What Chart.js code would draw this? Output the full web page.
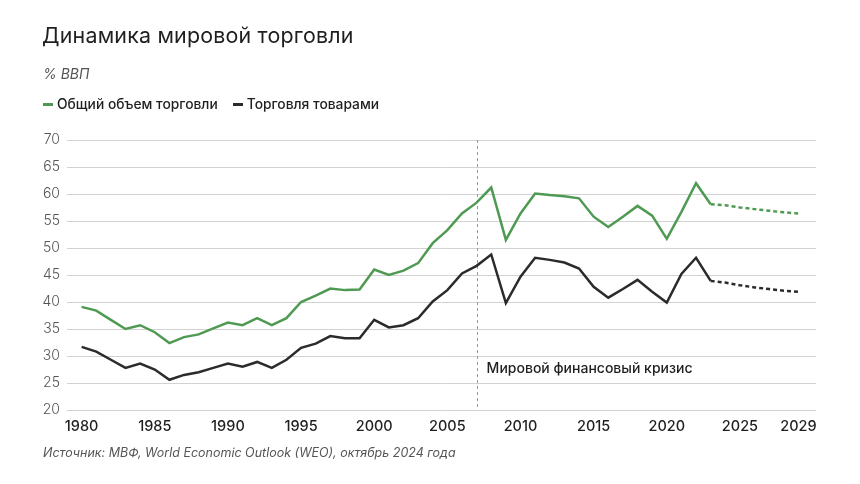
<!DOCTYPE html>
<html>
<head>
<meta charset="utf-8">
<script src="https://cdn.jsdelivr.net/npm/chart.js@4.4.1/dist/chart.umd.min.js"></script>
<style>
  html, body { margin: 0; padding: 0; background: #fff; }
  #wrap { position: relative; width: 860px; height: 484px; overflow: hidden; font-family: Inter, "Noto Sans", sans-serif; }
  #c { position: absolute; left: 0; top: 0; }
  .title { position: absolute; left: 42px; top: 22px; font-size: 21.4px; font-weight: 400; color: #1f1f1f; letter-spacing: 0.2px; white-space: nowrap; }
  .unit { position: absolute; left: 43px; top: 65px; font-size: 14px; font-style: italic; color: #555; white-space: nowrap; }
  .legend { position: absolute; left: 43px; top: 96px; font-size: 13.8px; font-weight: 500; color: #1f1f1f; white-space: nowrap; }
  .legend .item { display: inline-block; margin-right: 15px; }
  .legend .sw { display: inline-block; width: 10px; height: 3px; vertical-align: middle; margin-right: 4px; position: relative; top: -1px; }
  .source { position: absolute; left: 43px; top: 445px; font-size: 12.5px; font-style: italic; color: #555; white-space: nowrap; }
</style>
</head>
<body>
<div id="wrap">
  <canvas id="c" width="860" height="484"></canvas>
  <div class="title">Динамика мировой торговли</div>
  <div class="unit">% ВВП</div>
  <div class="legend" id="legend"></div>
  <div class="source">Источник: МВФ, World Economic Outlook (WEO), октябрь 2024 года</div>
</div>
<script>
// ---- data ----
const years = [1980,1981,1982,1983,1984,1985,1986,1987,1988,1989,
               1990,1991,1992,1993,1994,1995,1996,1997,1998,1999,
               2000,2001,2002,2003,2004,2005,2006,2007,2008,2009,
               2010,2011,2012,2013,2014,2015,2016,2017,2018,2019,
               2020,2021,2022,2023,2024,2025,2026,2027,2028,2029];
const totalTrade = [39.1,38.4,36.7,35.0,35.7,34.4,32.4,33.5,34.0,35.1,
                    36.2,35.7,37.0,35.7,37.0,40.0,41.2,42.5,42.2,42.3,
                    46.0,45.0,45.8,47.2,50.9,53.3,56.4,58.4,61.2,51.5,
                    56.4,60.1,59.8,59.6,59.2,55.8,53.9,55.8,57.8,56.0,
                    51.7,56.7,62.0,58.1,57.9,57.5,57.2,56.9,56.6,56.4];
const goodsTrade = [31.7,30.8,29.3,27.8,28.6,27.5,25.6,26.5,27.0,27.8,
                    28.6,28.0,28.9,27.8,29.3,31.5,32.3,33.7,33.3,33.3,
                    36.7,35.3,35.7,37.0,40.1,42.2,45.3,46.7,48.8,39.8,
                    44.7,48.2,47.8,47.3,46.2,42.8,40.8,42.4,44.1,41.9,
                    39.9,45.2,48.2,43.9,43.6,43.1,42.7,42.4,42.1,41.9];
const seriesNames = ["Общий объем торговли", "Торговля товарами"];
const xTickYears = [1980,1985,1990,1995,2000,2005,2010,2015,2020,2025,2029];
const yTickValues = [20,25,30,35,40,45,50,55,60,65,70];
const forecastStart = 2023;
const crisisYear = 2007;
const crisisLabel = "Мировой финансовый кризис";
const crisisLabelLevel = 27.6;

// ---- styles ----
const GREEN = "#4f9a52";
const DARK = "#2b2b2b";
const colors = [GREEN, DARK];

document.getElementById("legend").innerHTML = seriesNames.map((n, i) =>
  `<span class="item"><span class="sw" style="background:${colors[i]}"></span>${n}</span>`).join("");

const toPts = arr => years.map((y, i) => ({ x: y, y: arr[i] }));
const seg = {
  borderDash: ctx => (ctx.p0.parsed.x >= forecastStart ? [4, 3] : undefined)
};

const crisisPlugin = {
  id: "crisis",
  beforeDatasetsDraw(chart) {
    const { ctx, chartArea, scales } = chart;
    const x = Math.round(scales.x.getPixelForValue(crisisYear)) + 0.5;
    ctx.save();
    ctx.strokeStyle = "#9a9a9a";
    ctx.lineWidth = 1;
    ctx.setLineDash([3, 3]);
    ctx.beginPath();
    ctx.moveTo(x, chartArea.top);
    ctx.lineTo(x, chartArea.bottom);
    ctx.stroke();
    ctx.restore();
  },
  afterDatasetsDraw(chart) {
    const { ctx, scales } = chart;
    const x = scales.x.getPixelForValue(crisisYear) + 10;
    const y = scales.y.getPixelForValue(crisisLabelLevel);
    ctx.save();
    ctx.fillStyle = "#1f1f1f";
    ctx.font = "500 14px Inter, 'Noto Sans', sans-serif";
    ctx.textBaseline = "middle";
    ctx.textAlign = "left";
    ctx.fillText(crisisLabel, x, y);
    ctx.restore();
  }
};

new Chart(document.getElementById("c"), {
  type: "line",
  data: {
    datasets: [
      { label: seriesNames[0], data: toPts(totalTrade), borderColor: GREEN, borderWidth: 2.5, pointRadius: 0, tension: 0, segment: seg },
      { label: seriesNames[1], data: toPts(goodsTrade), borderColor: DARK, borderWidth: 2.5, pointRadius: 0, tension: 0, segment: seg }
    ]
  },
  options: {
    responsive: false,
    devicePixelRatio: 1,
    animation: false,
    layout: { padding: { left: 0, right: 44, top: 140, bottom: 0 } },
    plugins: { legend: { display: false }, tooltip: { enabled: false } },
    scales: {
      x: {
        type: "linear",
        min: 1979.0,
        max: 2030.2,
        grid: { display: false, drawTicks: false },
        border: { display: false },
        afterBuildTicks: s => { s.ticks = xTickYears.map(v => ({ value: v })); },
        afterFit: s => { s.height = 74; },
        ticks: {
          padding: 8,
          autoSkip: false,
          maxRotation: 0,
          color: "#1f1f1f",
          font: { family: "Inter, 'Noto Sans', sans-serif", size: 14.5, weight: 500 },
          callback: v => String(v)
        }
      },
      y: {
        min: 20,
        max: 70,
        afterBuildTicks: s => { s.ticks = yTickValues.map(v => ({ value: v })); },
        afterFit: s => { s.width = 67; },
        grid: { color: "#d2d2d2", lineWidth: 1, drawTicks: false },
        border: { display: false },
        ticks: {
          padding: 7,
          color: "#555",
          font: { family: "Inter, 'Noto Sans', sans-serif", size: 14, weight: 300 },
          callback: v => String(v)
        }
      }
    }
  },
  plugins: [crisisPlugin]
});
</script>
</body>
</html>
